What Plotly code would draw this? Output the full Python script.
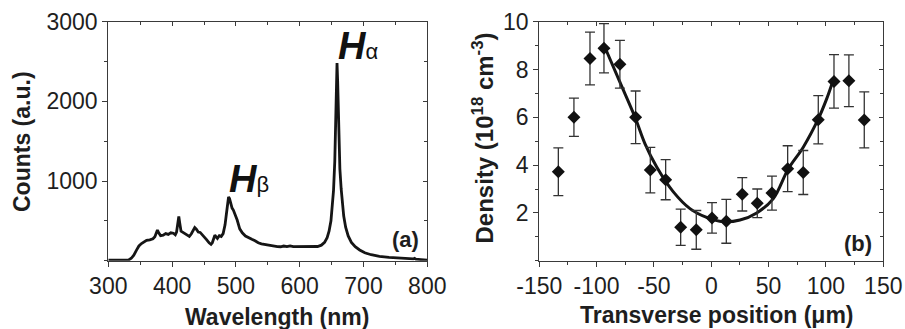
import plotly.graph_objects as go

# ---- Panel (a): emission spectrum ----
wavelength = [300, 320, 332, 336, 340, 344, 348, 352, 356, 360, 365, 370, 373, 375, 377, 379,
              382, 386, 390, 394, 398, 402, 405, 407, 409, 410.5, 412, 414, 417, 420, 424, 427,
              430, 433, 435.5, 438, 441, 444, 447, 450, 454, 458, 461, 463, 465, 467, 469, 471,
              474, 477, 480, 483, 485, 487, 488.5, 490, 492, 494, 496, 499, 502, 506, 510, 515,
              520, 525, 530, 535, 540, 550, 560, 565, 570, 575, 580, 585, 590, 600, 610, 620,
              628, 634, 639, 643, 646, 649, 651, 653, 655, 656.5, 657.5, 658.5, 659.5, 660.5,
              661.5, 663, 665, 667, 669, 672, 676, 681, 687, 694, 702, 712, 725, 740, 755, 770,
              778, 780, 782, 790, 800]
counts = [8, 8, 10, 30, 70, 130, 185, 215, 240, 255, 262, 275, 300, 355, 385, 350,
          315, 320, 340, 330, 350, 345, 325, 360, 470, 555, 470, 370, 355, 340, 320, 305,
          335, 380, 415, 395, 360, 355, 330, 300, 265, 225, 205, 225, 270, 320, 300, 280,
          315, 305, 340, 450, 580, 720, 800, 780, 700, 660, 635, 580, 510, 400, 350, 310,
          285, 268, 250, 225, 212, 195, 180, 176, 175, 184, 176, 186, 176, 175, 172, 172,
          178, 195, 230, 290, 370, 500, 650, 880, 1250, 1700, 2150, 2480, 2250, 1800,
          1450, 1150, 900, 700, 560, 420, 310, 230, 175, 135, 100, 75, 55, 42, 32, 25,
          22, 30, 20, 14, 8]
x1_ticks = [300, 400, 500, 600, 700, 800]
y1_ticks = [1000, 2000, 3000]

# ---- Panel (b): density profile ----
position = [-133.4, -119.8, -105.8, -93.6, -79.7, -66.0, -53.2, -39.8, -26.7, -13.1, 0.6,
            13.1, 27.0, 40.1, 52.9, 66.6, 80.2, 93.3, 107.0, 120.0, 133.4]
density = [3.72, 6.0, 8.46, 8.89, 8.22, 6.0, 3.79, 3.39, 1.40, 1.29, 1.79,
           1.65, 2.78, 2.40, 2.83, 3.85, 3.69, 5.90, 7.5, 7.53, 5.89]
density_err = [1.0, 0.8, 1.1, 1.03, 1.0, 1.1, 0.95, 0.84, 0.76, 0.81, 0.64,
               0.92, 0.7, 0.6, 0.71, 0.96, 0.92, 1.01, 1.12, 1.08, 1.17]
fit_x = [-92.7, -79.6, -66.5, -57.8, -47.6, -33.1, -18.6, -4.0, 10.5, 25.0, 39.6, 54.1,
         67.2, 80.2, 93.3, 100.6, 105.9]
fit_y = [8.92, 7.46, 6.0, 4.89, 3.92, 2.88, 2.18, 1.81, 1.63, 1.70, 2.0, 2.6,
         3.85, 4.75, 5.93, 6.77, 7.5]
x2_ticks = [-150, -100, -50, 0, 50, 100, 150]
x2_labels = ["-150", "-100", "-50", "0", "50", "100", "150"]
y2_ticks = [2, 4, 6, 8, 10]

FONT = "Liberation Sans, Arial, sans-serif"
TXT = "#1e1e1e"
AX = "#3a3a3a"

fig = go.Figure()
fig.add_trace(go.Scatter(x=wavelength, y=counts, mode="lines",
                         line=dict(color="#151515", width=2.8), xaxis="x", yaxis="y",
                         showlegend=False, hoverinfo="skip"))
fig.add_trace(go.Scatter(x=[None], y=[None], xaxis="x3", yaxis="y3", showlegend=False))
fig.add_trace(go.Scatter(x=fit_x, y=fit_y, mode="lines", line=dict(color="#151515", width=3, shape="spline"),
                         xaxis="x2", yaxis="y2", showlegend=False))
fig.add_trace(go.Scatter(x=position, y=density, mode="markers",
                         marker=dict(symbol="diamond", size=10, color="#111111"),
                         error_y=dict(type="data", array=density_err, color="#333333",
                                      thickness=1.3, width=5),
                         xaxis="x2", yaxis="y2", showlegend=False))
fig.add_trace(go.Scatter(x=[None], y=[None], xaxis="x4", yaxis="y4", showlegend=False))

xd1 = [108.3 / 905, 427.3 / 905]
xd2 = [539.3 / 905, 883.3 / 905]
yd = [(329 - 260.7) / 329, (329 - 21.7) / 329]

tick_font = dict(family=FONT, size=23, color=TXT)


def main_axis(rng, minor_dtick, tickvals, ticktext=None, **kw):
    d = dict(range=rng, showline=True, linecolor=AX, linewidth=1.2, showgrid=False,
             zeroline=False, ticks="outside", ticklen=5, tickwidth=1.1, tickcolor=AX,
             tickfont=tick_font, automargin=False, tickvals=tickvals,
             minor=dict(ticks="outside", ticklen=3, tickwidth=1, tickcolor=AX, dtick=minor_dtick,
                        tick0=rng[0], showgrid=False))
    if ticktext is not None:
        d["ticktext"] = ticktext
    d.update(kw)
    return d


def mirror_axis(rng, dtick, minor_dtick, **kw):
    d = dict(range=rng, showline=True, linecolor=AX, linewidth=1.2, showgrid=False,
             zeroline=False, ticks="inside", ticklen=4, tickwidth=1.1, tickcolor=AX,
             showticklabels=False, dtick=dtick, tick0=rng[0], automargin=False,
             minor=dict(ticks="inside", ticklen=3, tickwidth=1, tickcolor=AX, dtick=minor_dtick,
                        showgrid=False))
    d.update(kw)
    return d


fig.update_layout(
    width=905, height=329, autosize=False,
    margin=dict(l=0, r=0, t=0, b=0),
    paper_bgcolor="white", plot_bgcolor="white",
    xaxis=main_axis([300, 800], 50, x1_ticks, domain=xd1, anchor="y"),
    yaxis=main_axis([0, 3000], 500, y1_ticks, domain=yd, anchor="x"),
    xaxis3=mirror_axis([300, 800], 100, 50, overlaying="x", side="top", anchor="y3"),
    yaxis3=mirror_axis([0, 3000], 1000, 500, overlaying="y", side="right", anchor="x3"),
    xaxis2=main_axis([-150, 150], 25, x2_ticks, x2_labels, domain=xd2, anchor="y2"),
    yaxis2=main_axis([0, 10], 1, y2_ticks, domain=yd, anchor="x2"),
    xaxis4=mirror_axis([-150, 150], 50, 25, overlaying="x2", side="top", anchor="y4"),
    yaxis4=mirror_axis([0, 10], 2, 1, overlaying="y2", side="right", anchor="x4"),
)

title_font = dict(family=FONT, size=23, color=TXT)
annos = [
    dict(text="<b>Counts (a.u.)</b>", x=22 / 905, y=1 - 142 / 329, textangle=-90, size=23),
    dict(text="<b>Wavelength (nm)</b>", x=277 / 905, y=1 - 317 / 329, size=23),
    dict(text="<b>Density (10<sup>18</sup> cm<sup>-3</sup>)</b>", x=482.5 / 905, y=1 - 138 / 329,
         textangle=-90, size=24),
    dict(text="<b>Transverse position (μm)</b>", x=716.5 / 905, y=1 - 315 / 329, size=23),
]
for a in annos:
    sz = a.pop("size")
    fig.add_annotation(xref="paper", yref="paper", showarrow=False,
                       font=dict(family=FONT, size=sz, color=TXT),
                       xanchor="center", yanchor="middle", **a)

fig.add_annotation(xref="x", yref="y", x=691, y=2700, showarrow=False,
                   text="<b><i>H</i></b><span style='font-size:22px'>α</span>",
                   font=dict(family=FONT, size=38, color="#111111"), xanchor="center", yanchor="middle")
fig.add_annotation(xref="x", yref="y", x=520, y=1025, showarrow=False,
                   text="<b><i>H</i></b><span style='font-size:22px'>β</span>",
                   font=dict(family=FONT, size=38, color="#111111"), xanchor="center", yanchor="middle")
fig.add_annotation(xref="x", yref="y", x=766.6, y=272, showarrow=False, text="<b>(a)</b>",
                   font=dict(family=FONT, size=22, color=TXT), xanchor="center", yanchor="middle")
fig.add_annotation(xref="x2", yref="y2", x=128, y=0.72, showarrow=False, text="<b>(b)</b>",
                   font=dict(family=FONT, size=22, color=TXT), xanchor="center", yanchor="middle")

fig.write_html("out.html")
